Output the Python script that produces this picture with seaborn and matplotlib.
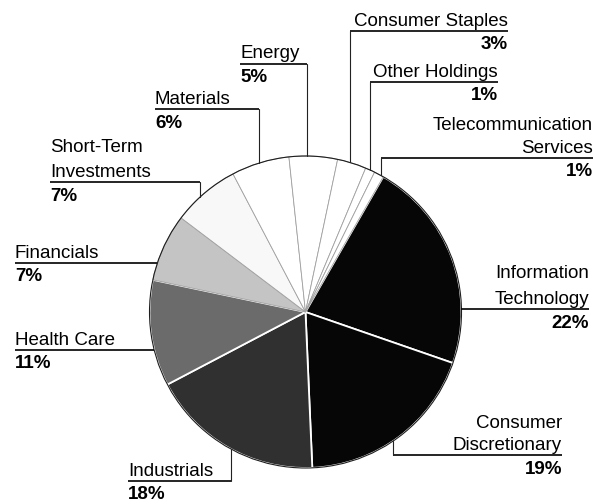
import matplotlib
matplotlib.use("Agg")
import numpy as np
import matplotlib.pyplot as plt
from matplotlib.patches import Circle
import seaborn as sns

# Portfolio breakdown by sector (percent of net assets), clockwise from the top right
categories = [
    "Information\nTechnology",
    "Consumer\nDiscretionary",
    "Industrials",
    "Health Care",
    "Financials",
    "Short-Term\nInvestments",
    "Materials",
    "Energy",
    "Consumer Staples",
    "Other Holdings",
    "Telecommunication\nServices",
]
shares = [22, 19, 18, 11, 7, 7, 6, 5, 3, 1, 1]

# Grey-scale fills, darkest for the largest holdings
fills = ["#060606", "#060606", "#303030", "#6b6b6b", "#c4c4c4", "#f8f8f8",
         "#ffffff", "#ffffff", "#ffffff", "#ffffff", "#ffffff"]
dark = [True, True, True, True, False, False, False, False, False, False, False]

# Canvas in pixels (y measured from the top)
W, H = 595, 504
CX, CY, R = 305.5, 312.0, 156.0

# Callout layout: text edge x, alignment, underline y, leader x (None = run to rim),
# which half of the rim the leader meets, spacing between wrapped lines
label_layout = [
    (589, "right", 309.0, None, None, 26.0),
    (562, "right", 455.0, 393, "below", 22.0),
    (128, "left", 480.5, 231, "below", 0.0),
    (15, "left", 350.0, None, None, 0.0),
    (15, "left", 262.7, None, None, 0.0),
    (50, "left", 182.3, 200, "above", 25.5),
    (155, "left", 109.3, 258.5, "above", 0.0),
    (240, "left", 63.5, 307.3, "above", 0.0),
    (508, "right", 30.7, 350, "above", 0.0),
    (498, "right", 82.0, 370, "above", 0.0),
    (593, "right", 158.0, 381, "above", 23.0),
]

sns.set_theme(style="white")
plt.rcParams["font.family"] = ["Liberation Sans", "DejaVu Sans"]
FS = 13.5


def Y(py):
    return H - py


fig = plt.figure(figsize=(W / 100, H / 100), dpi=100)
ax = fig.add_axes([0, 0, 1, 1])

wedges, _ = ax.pie(
    shares,
    colors=sns.color_palette(fills),
    startangle=60.1,
    counterclock=False,
    center=(CX, Y(CY)),
    radius=R,
    wedgeprops=dict(linewidth=0),
)
for w, is_dark in zip(wedges, dark):
    if is_dark:
        w.set_edgecolor("white")
        w.set_linewidth(1.3)
    else:
        w.set_edgecolor("#a0a0a0")
        w.set_linewidth(0.6)
ax.add_patch(Circle((CX, Y(CY)), R, fill=False, ec="#1e1e1e", lw=0.8, zorder=3))

line_kw = dict(color="black", lw=1.2, solid_capstyle="butt", zorder=4)
lead_kw = dict(color="#222222", lw=0.8, zorder=4)

for name, pct, (tx, ha, ly, lx, rim, gap) in zip(categories, shares, label_layout):
    # underline from the text edge to the leader (or straight to the rim)
    if lx is None:
        dx = np.sqrt(R ** 2 - (ly - CY) ** 2)
        lx_end = CX + dx if ha == "right" else CX - dx
        ax.plot([tx, lx_end], [Y(ly), Y(ly)], **line_kw)
    else:
        ax.plot([tx, lx], [Y(ly), Y(ly)], **line_kw)
        dy = np.sqrt(R ** 2 - (lx - CX) ** 2)
        rim_y = CY - dy if rim == "above" else CY + dy
        ax.plot([lx, lx], [Y(ly), Y(rim_y)], **lead_kw)

    lines = name.split("\n")
    for k, txt in enumerate(reversed(lines)):
        ax.text(tx, Y(ly - 5 - k * gap), txt, ha=ha, va="baseline",
                fontsize=FS, color="black")
    ax.text(tx, Y(ly + 18.5), f"{pct}%", ha=ha, va="baseline",
            fontsize=FS, fontweight="bold", color="black")

ax.set_xlim(0, W)
ax.set_ylim(0, H)
ax.set_aspect("equal")
ax.axis("off")

fig.savefig("out.png", dpi=100, facecolor="white")
